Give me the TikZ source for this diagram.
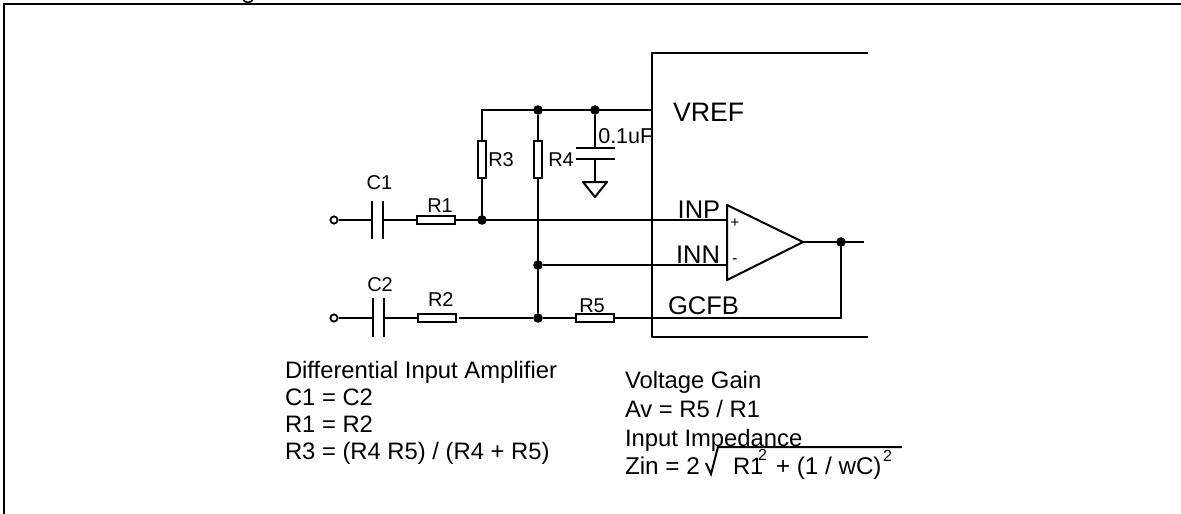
\documentclass[tikz,border=0pt]{standalone}
\usepackage{fontspec}
\setmainfont{Liberation Sans}
\newcommand{\fs}[1]{\fontsize{#1}{#1}\selectfont}
\tikzset{
  x=1pt,y=-1pt,
  wire/.style={line width=2pt,line join=round},
  frameline/.style={line width=2pt},
  res/.style={draw,line width=2pt,fill=white,inner sep=0pt,outer sep=0pt},
  hres/.style={res,minimum width=38pt,minimum height=8pt},
  vres/.style={res,minimum width=8pt,minimum height=37pt},
  dot/.style={circle,fill=black,inner sep=0pt,minimum size=9.6pt},
  term/.style={circle,draw,line width=1.8pt,fill=white,inner sep=0pt,minimum size=7.2pt},
  lab/.style={anchor=base west,inner sep=0pt,outer sep=0pt},
  small/.style={lab,font=\fs{20}},
  pin/.style={lab,font=\fs{25.5}},
  note/.style={lab,font=\fs{23.8}},
}
\begin{document}
\begin{tikzpicture}
\useasboundingbox (0,0) rectangle (1181,514);
% frame
\coordinate (fbl) at (4,514);
\coordinate (ftl) at (4,4);
\coordinate (ftr) at (1181,4);
\draw[frameline] (fbl) -- (ftl) -- (ftr);
\coordinate (ga) at (243.5,0);
\coordinate (gb) at (252.5,0);
\draw[line width=1.6pt] (ga) .. controls (245,3) and (251,3) .. (gb);
% IC outline
\coordinate (ic1) at (868,53);
\coordinate (ic2) at (652,53);
\coordinate (ic3) at (652,337);
\coordinate (ic4) at (868,337);
\draw[wire] (ic1) -- (ic2) -- (ic3) -- (ic4);
% opamp
\coordinate (ampT) at (727,205);
\coordinate (ampB) at (727,280);
\coordinate (ampO) at (803,242);
\coordinate (inpP) at (727,220);
\coordinate (innP) at (727,265);
\coordinate (outE) at (864,242);
\draw[wire] (ampT) -- (ampO) -- (ampB) -- cycle;
% junctions and terminals
\node[dot] (j3t) at (538,110) {};
\node[dot] (jc) at (595,110) {};
\node[dot] (j3b) at (482,220) {};
\node[dot] (jn) at (538,265) {};
\node[dot] (j5) at (538,318) {};
\node[dot] (jo) at (841,242) {};
\coordinate (tl) at (482,110);
\coordinate (vr) at (652,110);
\coordinate (fbc) at (841,318);
\node[term] (t1) at (334,220) {};
\node[term] (t2) at (334,318) {};
% capacitor C1, C2
\coordinate (c1a) at (372,220);
\coordinate (c1b) at (383,220);
\coordinate (c2a) at (373,318);
\coordinate (c2b) at (384,318);
\draw[wire] (372,201) -- (c1a) -- (372,239);
\draw[wire] (383,201) -- (c1b) -- (383,239);
\draw[wire] (373,298) -- (c2a) -- (373,337);
\draw[wire] (384,298) -- (c2b) -- (384,337);
% wires behind resistors
\draw[wire] (t1) -- (c1a);
\draw[wire] (t2) -- (c2a);
\draw[wire,line cap=rect] (tl) -- (vr);
\draw[wire,line cap=rect] (tl) -- (j3b);
\draw[wire] (j3t) -- (j5);
\draw[wire] (c1b) -- (inpP);
\draw[wire] (jn) -- (innP);
\draw[wire] (j5) -- (fbc);
\draw[wire,line cap=rect] (fbc) -- (jo);
\draw[wire] (ampO) -- (outE);
% resistors
\node[hres] (r1) at (436,220) {};
\node[hres] (r2) at (437,318) {};
\node[hres] (r5) at (595,318) {};
\node[vres] (r3) at (482,159.5) {};
\node[vres] (r4) at (538,159.5) {};
\draw[wire] (c2b) -- (r2.west);
\coordinate (r2gap) at (459,318);
\draw[wire] (r2gap) -- (j5);
% capacitor 0.1uF and ground
\coordinate (cp1) at (595,148);
\coordinate (cp2) at (595,159);
\coordinate (gt) at (595,182);
\draw[wire] (jc) -- (cp1);
\draw[wire] (576,148) -- (cp1) -- (615,148);
\draw[wire] (576,159) -- (cp2) -- (615,159);
\draw[wire] (cp2) -- (gt);
\coordinate (g1) at (583,182);
\coordinate (g2) at (607,182);
\coordinate (g3) at (595,197);
\draw[wire] (g1) -- (g2) -- (g3) -- cycle;
% labels
\node[small] (lc1) at (366.7,189) {C1};
\node[small] (lc2) at (367.3,291) {C2};
\node[small] (lr1) at (427.3,212.3) {R1};
\node[small] (lr2) at (428,306) {R2};
\node[small] (lr3) at (488.3,166) {R3};
\node[small] (lr4) at (548.3,166) {R4};
\node[small] (lr5) at (579.3,312.7) {R5};
\node[lab,font=\fs{21.5}] (lcap) at (598.3,143.3) {0.1uF};
\node[lab,font=\fs{26.7}] (lvref) at (673,121) {VREF};
\node[pin] (linp) at (677.7,218.3) {INP};
\node[pin] (linn) at (676,263.3) {INN};
\node[pin] (lgc) at (668,314.3) {GCFB};
\node[inner sep=0pt,font=\fs{15}] (lplus) at (735,223.3) {+};
\node[inner sep=0pt,font=\fs{16}] (lminus) at (734.7,261) {-};
% notes
\node[note] (n1) at (285,378) {Differential Input Amplifier};
\node[note] (n2) at (285,405) {C1 = C2};
\node[note] (n3) at (285,432) {R1 = R2};
\node[note] (n4) at (285,459) {R3 = (R4 R5) / (R4 + R5)};
\node[note] (v1) at (625,388) {Voltage Gain};
\node[note] (v2) at (625,417) {Av = R5 / R1};
\node[note] (v3) at (625,446) {Input Impedance};
\node[note,font=\fs{24.3}] (v4) at (625,474) {Zin = 2};
\node[note] (v5) at (733,474) {R1};
\node[note,font=\fs{24.2}] (v6) at (776,474) {+ (1 / wC)};
\node[lab,font=\fs{16}] (s1) at (758,460) {2};
\node[lab,font=\fs{16}] (s2) at (883,461) {2};
% root sign
\coordinate (ra) at (706,463);
\coordinate (rb) at (711,474);
\coordinate (rc) at (718,447);
\coordinate (rd) at (902,447);
\draw[line width=2pt] (ra) -- (rb) -- (rc) -- (rd);
\end{tikzpicture}
\end{document}
